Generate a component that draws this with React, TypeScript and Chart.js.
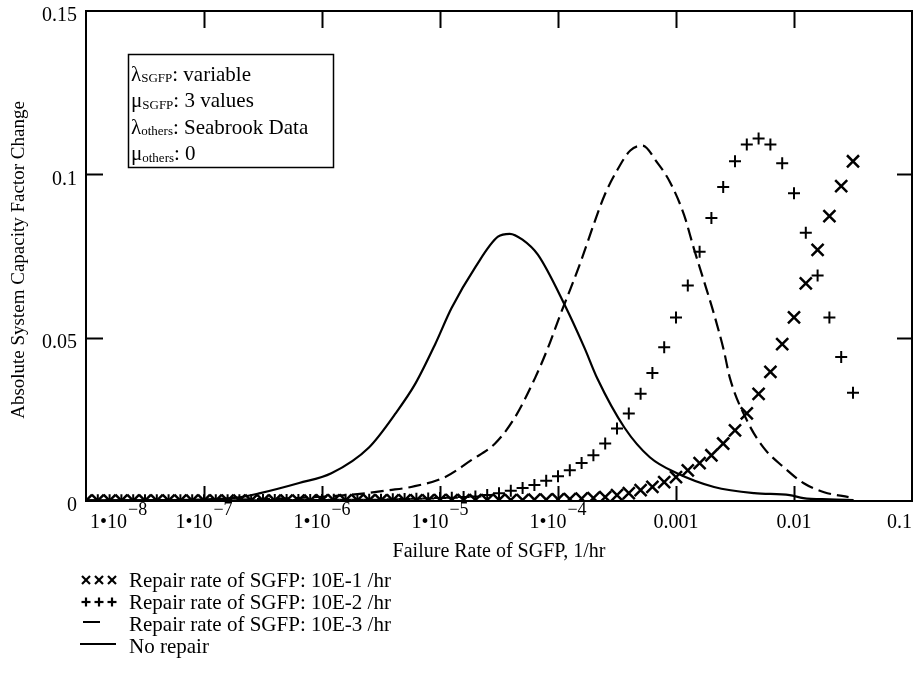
import React, { useEffect, useRef } from "react";
import { Chart, registerables } from "chart.js";

Chart.register(...registerables);

// ---------- data ----------
const X_MIN = 1e-8;
const X_MAX = 0.1;
const Y_MIN = 0;
const Y_MAX = 0.15;

// marker series sampled every 0.1 decade (log10 of failure rate)
const markerLogX = [
  -8.0, -7.9, -7.8, -7.7, -7.6, -7.5, -7.4, -7.3, -7.2, -7.1,
  -7.0, -6.9, -6.8, -6.7, -6.6, -6.5, -6.4, -6.3, -6.2, -6.1,
  -6.0, -5.9, -5.8, -5.7, -5.6, -5.5, -5.4, -5.3, -5.2, -5.1,
  -5.0, -4.9, -4.8, -4.7, -4.6, -4.5, -4.4, -4.3, -4.2, -4.1,
  -4.0, -3.9, -3.8, -3.7, -3.6, -3.5, -3.4, -3.3, -3.2, -3.1,
  -3.0, -2.9, -2.8, -2.7, -2.6, -2.5, -2.4, -2.3, -2.2, -2.1,
  -2.0, -1.9, -1.8, -1.7, -1.6, -1.5,
];

// Repair rate 10E-1 /hr (x markers)
const repair1Y = [
  0.0001, 0.0001, 0.0001, 0.0001, 0.0001, 0.0001, 0.0001, 0.0001, 0.0001, 0.0001,
  0.0001, 0.0001, 0.0001, 0.0001, 0.0001, 0.0001, 0.0001, 0.0001, 0.0001, 0.0001,
  0.0002, 0.0002, 0.0002, 0.0002, 0.0002, 0.0002, 0.0002, 0.0002, 0.0002, 0.0002,
  0.0003, 0.0003, 0.0003, 0.0003, 0.0003, 0.0003, 0.0003, 0.0003, 0.0004, 0.0004,
  0.0005, 0.0006, 0.0007, 0.0009, 0.0012, 0.0018, 0.0024, 0.0033, 0.0043, 0.0058,
  0.0073, 0.0094, 0.0116, 0.014, 0.0176, 0.0216, 0.0268, 0.0328, 0.0395, 0.048,
  0.0562, 0.0666, 0.0769, 0.0872, 0.0964, 0.104,
];

// Repair rate 10E-2 /hr (+ markers)
const repair2Y = [
  0.0002, 0.0002, 0.0002, 0.0002, 0.0002, 0.0002, 0.0002, 0.0002, 0.0002, 0.0002,
  0.0002, 0.0002, 0.0002, 0.0002, 0.0002, 0.0003, 0.0003, 0.0003, 0.0003, 0.0003,
  0.0003, 0.0004, 0.0004, 0.0004, 0.0004, 0.0004, 0.0005, 0.0006, 0.0007, 0.0008,
  0.0009, 0.001, 0.0012, 0.0014, 0.0018, 0.0024, 0.0031, 0.004, 0.0049, 0.0062,
  0.0076, 0.0094, 0.0116, 0.014, 0.0176, 0.0222, 0.0268, 0.0328, 0.0392, 0.0471,
  0.0562, 0.066, 0.0763, 0.0866, 0.0961, 0.104, 0.1091, 0.111, 0.1091, 0.1034,
  0.0942, 0.0821, 0.069, 0.0562, 0.0441, 0.0331,
];

// Repair rate 10E-3 /hr (dashed)
const repair3X = [
  1e-8, 1e-7, 5e-7, 1e-6, 2e-6, 3.7e-6, 5.7e-6, 1.1e-5, 1.84e-5, 2.93e-5,
  4.3e-5, 6.4e-5, 8.2e-5, 1.05e-4, 1.28e-4, 1.56e-4, 2.04e-4, 2.48e-4, 3.2e-4, 4.1e-4,
  5.2e-4, 6.9e-4, 8.9e-4, 1.17e-3, 1.42e-3, 1.73e-3, 2.1e-3, 2.55e-3, 2.86e-3, 4e-3,
  5.5e-3, 8.2e-3, 1.2e-2, 1.8e-2, 2.9e-2,
];
const repair3Y = [
  0.0001, 0.0003, 0.0008, 0.0013, 0.0021, 0.0033, 0.0043, 0.0073, 0.0125, 0.0176,
  0.0255, 0.0377, 0.0468, 0.0572, 0.0651, 0.0733, 0.0854, 0.0936, 0.1015, 0.1073,
  0.1088, 0.1037, 0.0976, 0.0876, 0.0772, 0.0672, 0.0572, 0.0459, 0.0377, 0.0246,
  0.0164, 0.0103, 0.0055, 0.0027, 0.0012,
];

// No repair (solid)
const noRepairX = [
  1e-8, 3e-8, 1e-7, 2e-7, 3e-7, 6.4e-7, 1.2e-6, 2.5e-6, 4.2e-6, 6.2e-6,
  9.1e-6, 1.25e-5, 2e-5, 3.1e-5, 3.9e-5, 5e-5, 6.75e-5, 1.14e-4, 1.68e-4, 2.16e-4,
  3.65e-4, 6e-4, 1.02e-3, 2.1e-3, 4.6e-3, 9.2e-3, 1.2e-2, 2e-2, 3.2e-2,
];
const noRepairY = [
  0.0001, 0.0002, 0.0005, 0.0011, 0.0024, 0.0055, 0.0085, 0.0164, 0.0268, 0.036,
  0.048, 0.059, 0.0717, 0.0809, 0.0818, 0.08, 0.0754, 0.06, 0.0468, 0.0374,
  0.0225, 0.0134, 0.0085, 0.0043, 0.0024, 0.0018, 0.0009, 0.0005, 0.0003,
];

// ticks & text
const xTickValues = [1e-8, 1e-7, 1e-6, 1e-5, 1e-4, 1e-3, 1e-2, 1e-1];
const xTickMain = ["1\u202210", "1\u202210", "1\u202210", "1\u202210", "1\u202210", "0.001", "0.01", "0.1"];
const xTickSup = ["\u22128", "\u22127", "\u22126", "\u22125", "\u22124", "", "", ""];
const yTickValues = [0, 0.05, 0.1, 0.15];
const yTickLabels = ["0", "0.05", "0.1", "0.15"];

const xTitle = "Failure Rate of SGFP, 1/hr";
const yTitle = "Absolute System Capacity Factor Change";

const seriesNames = [
  "Repair rate of SGFP: 10E-1 /hr",
  "Repair rate of SGFP: 10E-2 /hr",
  "Repair rate of SGFP: 10E-3 /hr",
  "No repair",
];

const infoLines: [string, string, string][] = [
  ["\u03bb", "SGFP", ": variable"],
  ["\u03bc", "SGFP", ": 3 values"],
  ["\u03bb", "others", ": Seabrook Data"],
  ["\u03bc", "others", ": 0"],
];

const FONT = "'Liberation Serif', 'Times New Roman', Times, serif";

function seg(ctx: CanvasRenderingContext2D, x1: number, y1: number, x2: number, y2: number) {
  ctx.beginPath();
  ctx.moveTo(x1, y1);
  ctx.lineTo(x2, y2);
  ctx.stroke();
}

const decorPlugin = {
  id: "decor",
  afterDatasetsDraw(chart: any) {
    const { ctx, chartArea: a, scales } = chart;
    const xs = scales.x;
    const ys = scales.y;
    ctx.save();
    ctx.strokeStyle = "#000";
    ctx.fillStyle = "#000";
    ctx.lineWidth = 2;
    ctx.strokeRect(a.left, a.top, a.right - a.left, a.bottom - a.top);

    // inward ticks
    xTickValues.forEach((v) => {
      const px = Math.round(xs.getPixelForValue(v)) + 0.5;
      if (px <= a.left + 2 || px >= a.right - 2) return;
      seg(ctx, px, a.top, px, a.top + 17);
      seg(ctx, px, a.bottom, px, a.bottom - 15);
    });
    yTickValues.forEach((v) => {
      const py = Math.round(ys.getPixelForValue(v)) + 0.5;
      if (py <= a.top + 2 || py >= a.bottom - 2) return;
      seg(ctx, a.left, py, a.left + 17, py);
      seg(ctx, a.right, py, a.right - 15, py);
    });

    ctx.textBaseline = "middle";
    // y tick labels
    ctx.font = `20px ${FONT}`;
    ctx.textAlign = "right";
    yTickValues.forEach((v, i) => {
      const py = ys.getPixelForValue(v);
      ctx.fillText(yTickLabels[i], a.left - 9, py + 5);
    });

    // x tick labels with superscripts
    ctx.textAlign = "left";
    xTickValues.forEach((v, i) => {
      const px = xs.getPixelForValue(v);
      ctx.font = `20px ${FONT}`;
      const wm = ctx.measureText(xTickMain[i]).width;
      ctx.font = `18px ${FONT}`;
      const ws = xTickSup[i] ? ctx.measureText(xTickSup[i]).width + 1 : 0;
      let x0 = px - (wm + ws) / 2;
      if (x0 < a.left + 4) x0 = a.left + 4;
      if (x0 + wm + ws > a.right) x0 = a.right - wm - ws;
      ctx.font = `20px ${FONT}`;
      ctx.fillText(xTickMain[i], x0, a.bottom + 22);
      if (xTickSup[i]) {
        ctx.font = `18px ${FONT}`;
        ctx.fillText(xTickSup[i], x0 + wm + 1, a.bottom + 9);
      }
    });

    // axis titles
    ctx.font = `20px ${FONT}`;
    ctx.textAlign = "center";
    ctx.fillText(xTitle, (a.left + a.right) / 2, a.bottom + 51);
    ctx.font = `19px ${FONT}`;
    ctx.save();
    ctx.translate(19, (a.top + a.bottom) / 2 + 4);
    ctx.rotate(-Math.PI / 2);
    ctx.fillText(yTitle, 0, 0);
    ctx.restore();

    // info box
    ctx.lineWidth = 1.5;
    ctx.strokeRect(128.5, 54.5, 205, 113);
    ctx.textAlign = "left";
    infoLines.forEach((ln, i) => {
      const y = 75 + i * 26.5;
      let x = 131;
      ctx.font = `21px ${FONT}`;
      ctx.fillText(ln[0], x, y);
      x += ctx.measureText(ln[0]).width;
      ctx.font = `13px ${FONT}`;
      ctx.fillText(ln[1], x, y + 4);
      x += ctx.measureText(ln[1]).width;
      ctx.font = `21px ${FONT}`;
      ctx.fillText(ln[2], x, y);
    });

    // legend
    const rows = [581, 603, 625, 647];
    ctx.lineWidth = 2.2;
    [86, 99, 112].forEach((cx) => {
      const r = 4;
      seg(ctx, cx - r, rows[0] - r - 1, cx + r, rows[0] + r - 1);
      seg(ctx, cx + r, rows[0] - r - 1, cx - r, rows[0] + r - 1);
    });
    [86, 99, 112].forEach((cx) => {
      const r = 4.5;
      seg(ctx, cx - r, rows[1] - 1, cx + r, rows[1] - 1);
      seg(ctx, cx, rows[1] - r - 1, cx, rows[1] + r - 1);
    });
    ctx.lineWidth = 2;
    seg(ctx, 83, rows[2] - 3, 100, rows[2] - 3);
    seg(ctx, 80, rows[3] - 3, 116, rows[3] - 3);
    ctx.font = `21px ${FONT}`;
    seriesNames.forEach((n, i) => {
      ctx.fillText(n, 129, rows[i]);
    });
    ctx.restore();
  },
};

export default function App() {
  const ref = useRef<HTMLCanvasElement | null>(null);

  useEffect(() => {
    if (!ref.current) return;
    const markerX = markerLogX.map((e) => Math.pow(10, e));
    const chart = new Chart(ref.current, {
      type: "line",
      data: {
        datasets: [
          {
            label: seriesNames[0],
            data: markerX.map((x, i) => ({ x, y: repair1Y[i] })),
            showLine: false,
            pointStyle: "crossRot",
            pointRadius: 8.5,
            pointBorderWidth: 2.5,
            borderColor: "#000",
            backgroundColor: "#000",
          },
          {
            label: seriesNames[1],
            data: markerX.map((x, i) => ({ x, y: repair2Y[i] })),
            showLine: false,
            pointStyle: "cross",
            pointRadius: 6,
            pointBorderWidth: 2,
            borderColor: "#000",
            backgroundColor: "#000",
          },
          {
            label: seriesNames[2],
            data: repair3X.map((x, i) => ({ x, y: repair3Y[i] })),
            borderColor: "#000",
            borderWidth: 2.2,
            borderDash: [13, 6],
            pointRadius: 0,
            cubicInterpolationMode: "monotone",
          },
          {
            label: seriesNames[3],
            data: noRepairX.map((x, i) => ({ x, y: noRepairY[i] })),
            borderColor: "#000",
            borderWidth: 2.2,
            pointRadius: 0,
            cubicInterpolationMode: "monotone",
          },
        ],
      },
      options: {
        animation: false,
        responsive: false,
        devicePixelRatio: 1,
        events: [],
        layout: { padding: { left: 86, right: 7, top: 8, bottom: 189 } },
        plugins: { legend: { display: false }, tooltip: { enabled: false } },
        scales: {
          x: { type: "logarithmic", min: X_MIN, max: X_MAX, display: false },
          y: { type: "linear", min: Y_MIN, max: Y_MAX, display: false },
        },
      },
      plugins: [decorPlugin],
    });
    return () => chart.destroy();
  }, []);

  return (
    <div style={{ position: "fixed", left: 0, top: 0, width: 923, height: 690, background: "#fff" }}>
      <canvas ref={ref} width={923} height={690} style={{ display: "block" }} />
    </div>
  );
}
